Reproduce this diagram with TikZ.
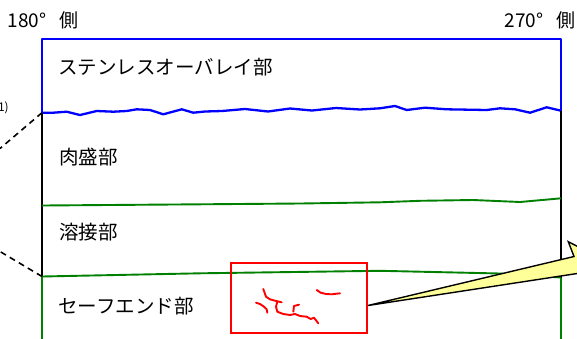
\documentclass[tikz,border=0pt]{standalone}
\usepackage{fontspec}
\setmainfont{Noto Sans CJK JP}
\definecolor{bblue}{RGB}{0,0,255}
\definecolor{ggreen}{RGB}{0,128,0}
\definecolor{rred}{RGB}{255,0,0}
\definecolor{callfill}{RGB}{255,255,153}
\tikzset{
  lbl/.style={inner sep=0pt, anchor=base west, font=\fontsize{19.5}{20}\selectfont},
  toplbl/.style={inner sep=0pt, anchor=base west, font=\fontsize{19}{20}\selectfont},
  blueline/.style={draw=bblue, line width=2.3pt, line join=round},
  blackline/.style={draw=black, line width=2.1pt},
  greenline/.style={draw=ggreen, line width=1.9pt, line join=round},
  dashline/.style={draw=black, line width=1.6pt, dash pattern=on 6pt off 4.5pt},
  crack/.style={draw=rred, line width=1.9pt, line join=round, line cap=round},
  redbox/.style={draw=rred, line width=2pt},
  callout/.style={fill=callfill, draw=black, line width=1.4pt, line join=miter}
}
\begin{document}
\begin{tikzpicture}[x=1pt,y=-1pt]
\useasboundingbox (0,0) rectangle (577,338);
\clip (0,0) rectangle (577,338);
\fill[white] (0,0) rectangle (577,338);
% corner coordinates
\coordinate (tl) at (42,39);
\coordinate (tr) at (561,39);
\coordinate (bl) at (42,112.7);
\coordinate (br) at (561,110.7);
\coordinate (gl) at (42,276.5);
\coordinate (gr) at (561,277.5);
\coordinate (el) at (42,345);
\coordinate (er) at (561,345);
\coordinate (du) at (0,148.5);
\coordinate (dl) at (0,251.5);
% labels at top
\node[toplbl] (t180) at (7.5,27) {180°\hspace{0.7em}側};
\node[toplbl] (t270) at (504.5,27) {270°\hspace{0.7em}側};
\node[inner sep=0pt, anchor=base east, font=\fontsize{12}{12}\selectfont] (cut) at (9,111) {1)};
% blue top section
\draw[blueline] (bl) -- (tl) -- (tr) -- (br);
\draw[blueline] (bl) -- (53.3,112.7) -- (66.7,111.7) -- (80,115) -- (96.7,111) -- (113.3,111.7)
  -- (126.7,111) -- (136.7,109.3) -- (150,110) -- (163.3,114.3) -- (181.7,109.3) -- (193.3,112.7)
  -- (205,111.5) -- (222,111) -- (245,109) -- (268,111.5) -- (290,108.5) -- (312,110.5) -- (336,108)
  -- (360,109.5) -- (380,108.3) -- (395,106) -- (406.7,110) -- (425,107.7) -- (446.7,109.3)
  -- (486.7,110) -- (500,108.3) -- (515,109.3) -- (530,112.7) -- (546.7,107.3) -- (br);
% black section
\draw[blackline] (bl) -- (gl);
\draw[blackline] (br) -- (gr);
% green section
\draw[greenline] (gl) -- (el);
\draw[greenline] (gr) -- (er);
\draw[greenline] (42,205.5) -- (200,204.3) -- (300,203.5) -- (380,202.3) -- (420,200.8) -- (473,200)
  -- (520,202) -- (561,198.3);
\draw[greenline] (gl) -- (200,273.3) -- (380,270.8) -- (500,273.5) -- (gr);
% dashed connectors
\draw[dashline] (bl) -- (du);
\draw[dashline] (gl) -- (dl);
% section labels
\node[lbl] (sus) at (58,74) {ステンレスオーバレイ部};
\node[lbl] (niku) at (59,164) {肉盛部};
\node[lbl] (yose) at (59,239) {溶接部};
\node[lbl] (safe) at (58,313) {セーフエンド部};
% red box and cracks
\node[redbox, inner sep=0pt, minimum width=136pt, minimum height=69.5pt, anchor=north west] (rb) at (230,262.3) {};
\draw[crack] (263.3,289) -- (266,296.7) -- (270,299.3) -- (275,300.7) -- (281.7,302.3);
\draw[crack] (277.3,301.7) -- (276,306.7) -- (277.3,311.7) -- (283.3,314) -- (290,315) -- (295,314)
  -- (300,316) -- (306.7,316.7) -- (310.7,319) -- (314,317.7) -- (318.3,323.3);
\draw[crack] (256,302.7) -- (260,304) -- (264,306.7) -- (266.7,309.3) -- (267.3,312.7);
\draw[crack] (293.3,311.7) -- (294,306) -- (299,304.7);
\draw[crack] (316.7,290) -- (320.7,292.7) -- (326,294) -- (331.7,294.3) -- (340,293.3);
% callout
\coordinate (tip) at (rb.east |- 0,305.5);
\draw[callout] (600,258) -- (568.3,241.7) -- (574,256.5) -- (tip) -- (600,270) -- cycle;
\end{tikzpicture}
\end{document}
